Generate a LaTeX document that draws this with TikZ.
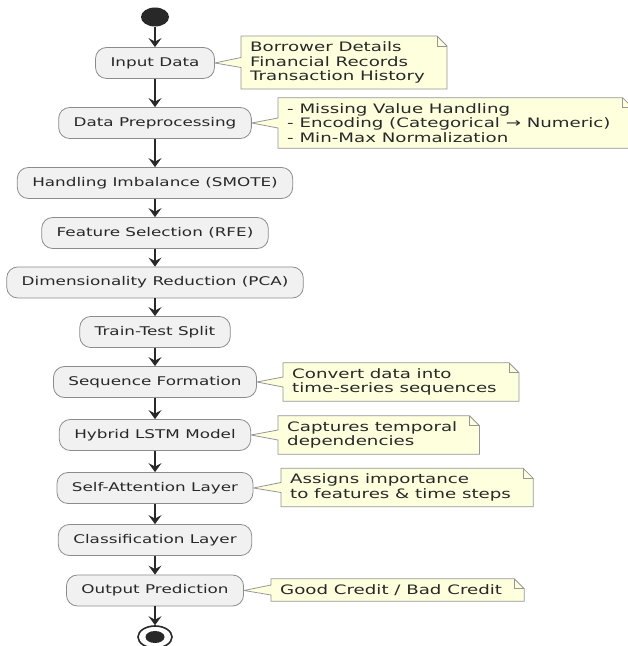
\documentclass[tikz,border=0pt]{standalone}
\usepackage{fontspec}
\usetikzlibrary{shapes.geometric,arrows.meta,backgrounds,calc}
\newfontfamily\diagfont{DejaVu Sans}[FakeStretch=1.4]
\definecolor{actfill}{RGB}{241,241,241}
\definecolor{actline}{RGB}{140,140,140}
\definecolor{notefill}{RGB}{254,255,221}
\definecolor{noteline}{RGB}{150,150,150}
\definecolor{inkgray}{RGB}{40,40,40}
\tikzset{
  activity/.style={draw=actline, fill=actfill, line width=0.8pt, rounded corners=11pt, minimum height=31pt, inner xsep=15pt, inner ysep=0pt, text=inkgray, font=\diagfont\fontsize{12}{14}\selectfont},
  notetext/.style={anchor=west, align=left, inner xsep=0pt, inner ysep=5.5pt, text=inkgray, font=\diagfont\fontsize{13}{14.5}\selectfont},
  notebody/.style={draw=noteline, fill=notefill, line width=0.8pt},
  flow/.style={draw=inkgray, line width=1.1pt, -{Stealth[length=9pt,width=13pt,inset=3.5pt]}}
}
\begin{document}
\begin{tikzpicture}[x=1pt,y=1pt]
\useasboundingbox (0,0) rectangle (628,646);

%Shape: Start
\node (start) [ellipse, fill=inkgray, minimum width=28pt, minimum height=19pt, inner sep=0pt] at (155,629) {};

% Activity Nodes
\node (input) [activity] at (155,583) {Input Data};
\node (prep) [activity] at (155,523) {Data Preprocessing};
\node (smote) [activity] at (155,463) {Handling Imbalance (SMOTE)};
\node (rfe) [activity] at (155,413) {Feature Selection (RFE)};
\node (pca) [activity] at (155,363.5) {Dimensionality Reduction (PCA)};
\node (split) [activity] at (155,314) {Train-Test Split};
\node (seq) [activity] at (155,264) {Sequence Formation};
\node (lstm) [activity] at (155,211) {Hybrid LSTM Model};
\node (attn) [activity] at (155,158) {Self-Attention Layer};
\node (cls) [activity] at (155,106) {Classification Layer};
\node (out) [activity] at (155,55.5) {Output Prediction};

%Shape: End
\node (stop) [ellipse, draw=inkgray, line width=1.6pt, minimum width=34pt, minimum height=22pt, inner sep=0pt] at (155,9) {};
\node (stopdot) [ellipse, fill=inkgray, minimum width=19pt, minimum height=12pt, inner sep=0pt] at (stop.center) {};

% Text Node
\node (noteInput) [notetext] at (250,583.5) {Borrower Details\\Financial Records\\Transaction History};
\node (notePrep) [notetext] at (287,523) {- Missing Value Handling\\- Encoding (Categorical → Numeric)\\- Min-Max Normalization};
\node (noteSeq) [notetext] at (292,264) {Convert data into\\time-series sequences};
\node (noteLstm) [notetext] at (287,211) {Captures temporal\\dependencies};
\node (noteAttn) [notetext] at (290,158.5) {Assigns importance\\to features \& time steps};
\node (noteOut) [notetext] at (280,56) {Good Credit / Bad Credit};

%Shape: Notes
\begin{scope}[on background layer]
\foreach \act/\nt in {input/noteInput, prep/notePrep, seq/noteSeq, lstm/noteLstm, attn/noteAttn, out/noteOut}{
  \draw[notebody] ($(\nt.north west)+(-9,0)$) -- ($(\nt.north east)+(12,0)$) -- ($(\nt.north east)+(22,-10)$) -- ($(\nt.south east)+(22,0)$) -- ($(\nt.south west)+(-9,0)$) -- ($(\nt.west)+(-9,-5)$) -- (\act.east) -- ($(\nt.west)+(-9,5)$) -- cycle;
  \draw[notebody, fill=none] ($(\nt.north east)+(12,0)$) -- ($(\nt.north east)+(12,-10)$) -- ($(\nt.north east)+(22,-10)$);
}
\end{scope}

%Straight Lines
\foreach \a/\b in {start/input, input/prep, prep/smote, smote/rfe, rfe/pca, pca/split, split/seq, seq/lstm, lstm/attn, attn/cls, cls/out, out/stop}
  \draw[flow] (\a) -- (\b);

\end{tikzpicture}
\end{document}
